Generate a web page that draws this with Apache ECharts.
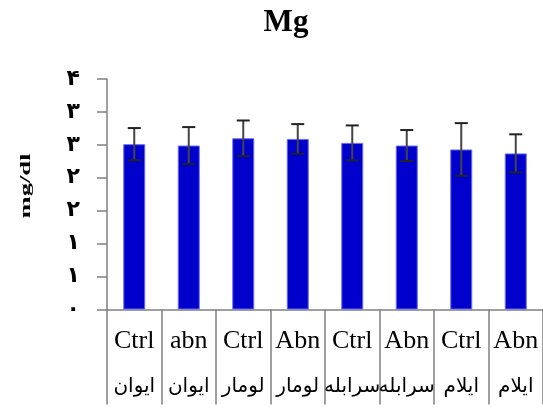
<!DOCTYPE html>
<html>
<head>
<meta charset="utf-8">
<script src="https://cdn.jsdelivr.net/npm/echarts@6/dist/echarts.min.js"></script>
<style>
  html, body { margin: 0; padding: 0; background: #fff; }
  #chart { width: 543px; height: 410px; }
</style>
</head>
<body>
<div id="chart"></div>
<script>
// Mg level per group: group label (top line) and site name (bottom line)
const groups = ['Ctrl', 'abn', 'Ctrl', 'Abn', 'Ctrl', 'Abn', 'Ctrl', 'Abn'];
const sites = ['ایوان', 'ایوان', 'لومار', 'لومار', 'سرابله', 'سرابله', 'ایلام', 'ایلام'];
const means = [2.51, 2.49, 2.60, 2.59, 2.53, 2.49, 2.43, 2.37];
const sds = [0.245, 0.28, 0.27, 0.225, 0.265, 0.235, 0.40, 0.29];
// y tick labels (Persian digits, rounded values of 0, 0.5, ... 3.5)
const yTickLabels = ['۰', '۱', '۱', '۲', '۲', '۳', '۳', '۴'];

const serif = "'Liberation Serif', 'Times New Roman', 'DejaVu Serif', serif";
const persian = "'Liberation Serif', 'DejaVu Sans', serif";

const categories = groups.map((g, i) => g + '\n' + sites[i]);

const chart = echarts.init(document.getElementById('chart'), null, { renderer: 'canvas' });

chart.setOption({
  animation: false,
  backgroundColor: '#ffffff',
  grid: { left: 107, right: -2, top: 79, bottom: 100.5, containLabel: false },
  graphic: [
    {
      type: 'text',
      x: 286, y: 23,
      style: {
        text: 'Mg', fill: '#000', font: 'bold 31px ' + serif,
        textAlign: 'center', textVerticalAlign: 'middle'
      }
    },
    {
      type: 'text',
      x: 26, y: 186,
      rotation: Math.PI / 2,
      scaleX: 1.9,
      scaleY: 1.05,
      style: {
        text: 'mg/dl', fill: '#000', font: 'bold 14px ' + serif,
        textAlign: 'center', textVerticalAlign: 'middle'
      }
    }
  ],
  xAxis: {
    type: 'category',
    data: categories,
    axisLine: { show: true, lineStyle: { color: '#808080', width: 1.5 } },
    axisTick: { show: true, interval: 0, length: 95, lineStyle: { color: '#808080', width: 1.5 } },
    axisLabel: {
      interval: 0,
      margin: 12,
      formatter: (v) => {
        const p = v.split('\n');
        return '{a|' + p[0] + '}\n{b|' + p[1] + '}';
      },
      rich: {
        a: { fontFamily: serif, fontSize: 26, color: '#000', lineHeight: 40, align: 'center' },
        b: { fontFamily: persian, fontSize: 20, color: '#000', lineHeight: 50, align: 'center' }
      }
    },
    splitLine: { show: false }
  },
  yAxis: {
    type: 'value',
    min: 0, max: 3.5, interval: 0.5,
    axisLine: { show: true, lineStyle: { color: '#808080', width: 1.5 } },
    axisTick: { show: true, length: 10, lineStyle: { color: '#808080', width: 1.5 } },
    axisLabel: {
      margin: 27,
      fontFamily: persian, fontSize: 22, fontWeight: 'bold', color: '#000',
      formatter: (v) => yTickLabels[Math.round(v / 0.5)]
    },
    splitLine: { show: false }
  },
  series: [
    {
      type: 'bar',
      data: means,
      barWidth: 22,
      itemStyle: { color: '#0000cc', borderColor: '#6b6bf0', borderWidth: 1 },
      z: 2
    },
    {
      type: 'custom',
      data: means.map((m, i) => [i, m, sds[i]]),
      z: 3,
      renderItem: (params, api) => {
        const i = api.value(0);
        const m = api.value(1);
        const s = api.value(2);
        const top = api.coord([i, m + s]);
        const bot = api.coord([i, m - s]);
        const hw = 6.5;
        const st = { stroke: '#222', lineWidth: 2 };
        return {
          type: 'group',
          children: [
            { type: 'line', shape: { x1: top[0], y1: top[1], x2: bot[0], y2: bot[1] }, style: { stroke: '#444', lineWidth: 2 } },
            { type: 'line', shape: { x1: top[0] - hw, y1: top[1], x2: top[0] + hw, y2: top[1] }, style: st },
            { type: 'line', shape: { x1: bot[0] - hw, y1: bot[1], x2: bot[0] + hw, y2: bot[1] }, style: st }
          ]
        };
      }
    }
  ]
});
</script>
</body>
</html>
